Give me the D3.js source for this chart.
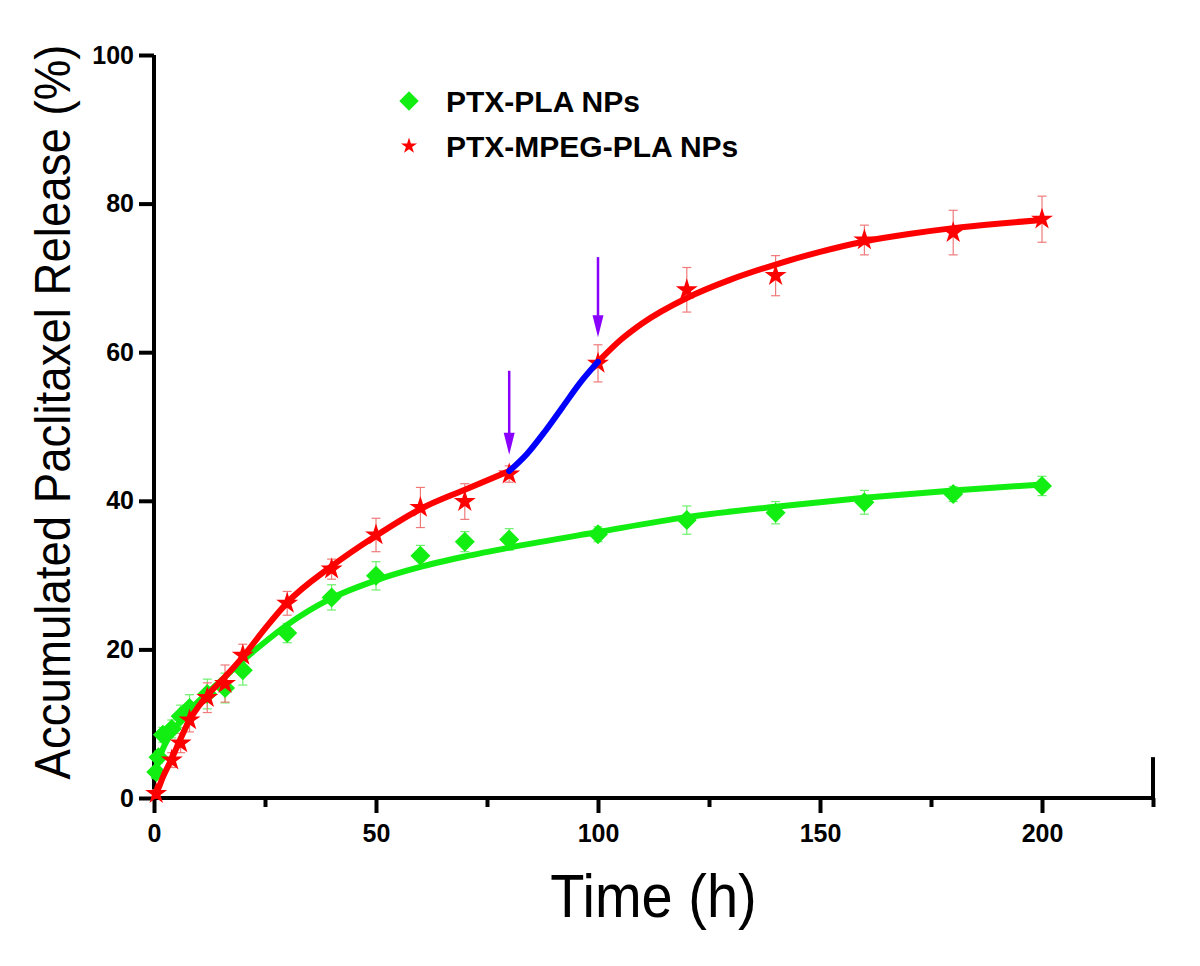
<!DOCTYPE html>
<html>
<head>
<meta charset="utf-8">
<script src="https://cdn.jsdelivr.net/npm/d3@7/dist/d3.min.js"></script>
<style>
  html, body { margin: 0; padding: 0; background: #fff; }
  svg { display: block; font-family: "Liberation Sans", Arial, sans-serif; }
</style>
</head>
<body>
<svg id="chart" width="1200" height="966"></svg>
<script>
// ---------- data ----------
const plaTime  = [0.5, 1, 2, 4, 6, 8, 12, 16, 20, 30, 40, 50, 60, 70, 80, 100, 120, 140, 160, 180, 200];
const plaValue = [3.5, 5.5, 8.5, 9.3, 11.0, 12.1, 14.0, 14.8, 17.2, 22.2, 27.0, 29.9, 32.6, 34.5, 34.8, 35.5, 37.4, 38.4, 39.8, 40.9, 42.0];
const plaError = [0.5, 0.8, 1.0, 1.2, 1.5, 1.8, 2.0, 2.0, 2.0, 1.3, 1.7, 1.9, 1.4, 1.35, 1.45, 1.0, 1.9, 1.5, 1.6, 1.0, 1.3];

const mpegTime  = [0.5, 4, 6, 8, 12, 16, 20, 30, 40, 50, 60, 70, 80, 100, 120, 140, 160, 180, 200];
const mpegValue = [0.6, 5.1, 7.4, 10.5, 13.5, 15.4, 19.2, 26.2, 30.8, 35.4, 39.1, 39.9, 43.6, 58.5, 68.4, 70.3, 75.1, 76.1, 77.9];
const mpegError = [0.5, 1.0, 1.3, 1.6, 2.0, 2.5, 1.5, 1.6, 1.35, 2.25, 2.7, 2.4, 1.1, 2.5, 3.0, 2.7, 2.0, 3.0, 3.1];

// fitted curves
const plaFitTime  = [0, 1, 2, 4, 6, 8, 10, 12, 16, 20, 25, 30, 40, 50, 60, 70, 80, 100, 120, 140, 160, 180, 200];
const plaFitValue = [2.5, 5.0, 6.6, 8.8, 10.4, 11.8, 13.0, 14.1, 16.3, 18.5, 21.0, 23.3, 26.9, 29.3, 31.1, 32.5, 33.7, 35.8, 37.8, 39.2, 40.4, 41.4, 42.2];

const mpegFit1Time  = [0, 1, 2, 4, 6, 8, 10, 12, 16, 20, 25, 30, 40, 50, 60, 70, 80];
const mpegFit1Value = [0, 1.3, 2.8, 5.3, 8.0, 10.5, 12.3, 13.8, 16.3, 19.0, 22.8, 26.3, 31.2, 35.3, 38.9, 41.5, 44.0];
const mpegFit2Time  = [80, 84, 88, 92, 96, 100];
const mpegFit2Value = [44.0, 46.3, 49.3, 52.6, 55.9, 58.7];
const mpegFit3Time  = [100, 105, 110, 120, 130, 140, 150, 160, 170, 180, 190, 200];
const mpegFit3Value = [58.7, 61.6, 63.9, 67.3, 69.8, 71.8, 73.5, 74.9, 75.9, 76.7, 77.3, 77.8];

const arrowTime = [80, 100];
const arrowTop  = [57.5, 72.8];
const arrowTip  = [46.2, 62.0];

const xTicks = [0, 50, 100, 150, 200];
const xMinorTicks = [25, 75, 125, 175, 225];
const yTicks = [0, 20, 40, 60, 80, 100];

const seriesNames = ["PTX-PLA NPs", "PTX-MPEG-PLA NPs"];
const xTitle = "Time (h)";
const yTitle = "Accumulated Paclitaxel Release (%)";

// ---------- drawing ----------
const GREEN = "#12ee12", GREEN_ERR = "#6cf06c";
const RED = "#ff0000", RED_ERR = "#f07a7a";
const BLUE = "#0000ff", ARROW = "#8a00ff";

const svg = d3.select("#chart");
const x = d3.scaleLinear().domain([0, 225]).range([154, 1153]);
const y = d3.scaleLinear().domain([0, 100]).range([798, 55]);

// axes
const xAxis = svg.append("g").attr("transform", `translate(0,${y(0)})`)
  .call(d3.axisBottom(x).tickValues(xTicks).tickSize(15).tickPadding(11).tickFormat(d3.format("d")));
const xMinor = svg.append("g").attr("transform", `translate(0,${y(0)})`)
  .call(d3.axisBottom(x).tickValues(xMinorTicks).tickSize(9).tickFormat(""));
const yAxis = svg.append("g").attr("transform", `translate(${x(0)},0)`)
  .call(d3.axisLeft(y).tickValues(yTicks).tickSize(15).tickPadding(5).tickFormat(d3.format("d")));

[xAxis, xMinor, yAxis].forEach(g => {
  g.select(".domain").attr("stroke", "#000").attr("stroke-width", 4);
  g.selectAll(".tick line").attr("stroke", "#000").attr("stroke-width", 4);
  g.selectAll(".tick text").attr("fill", "#000").attr("font-size", 25).attr("font-weight", "bold")
    .attr("font-family", "'Liberation Sans', Arial, sans-serif");
});
xAxis.select(".domain").attr("d", `M${x(0)},0H${x(225)}`);
xMinor.select(".domain").remove();
yAxis.select(".domain").attr("d", `M0,${y(0)}V${y(100)}`);
// short upward stub at the right end of the x axis
svg.append("line").attr("x1", x(225)).attr("x2", x(225)).attr("y1", y(0)).attr("y2", y(5.5))
  .attr("stroke", "#000").attr("stroke-width", 4);

// axis titles
svg.append("text").attr("transform", `translate(${(x(0) + x(225)) / 2},917) scale(1,1.1)`)
  .attr("text-anchor", "middle").attr("font-size", 56).attr("fill", "#000").text(xTitle);
svg.append("text").attr("transform", `translate(70,412) rotate(-90) scale(1,1.1)`)
  .attr("text-anchor", "middle").attr("font-size", 45.6).attr("fill", "#000").text(yTitle);

const toPts = (ts, vs) => ts.map((t, i) => [t, vs[i]]);
const line = d3.line().x(d => x(d[0])).y(d => y(d[1])).curve(d3.curveMonotoneX);

function errorBars(ts, vs, es, color) {
  const g = svg.append("g").attr("stroke", color).attr("stroke-width", 1.2).attr("fill", "none");
  ts.forEach((t, i) => {
    const cx = x(t), y1 = y(vs[i] + es[i]), y2 = y(vs[i] - es[i]);
    g.append("line").attr("x1", cx).attr("x2", cx).attr("y1", y1).attr("y2", y2);
    g.append("line").attr("x1", cx - 4.5).attr("x2", cx + 4.5).attr("y1", y1).attr("y2", y1);
    g.append("line").attr("x1", cx - 4.5).attr("x2", cx + 4.5).attr("y1", y2).attr("y2", y2);
  });
}

errorBars(plaTime, plaValue, plaError, GREEN_ERR);
errorBars(mpegTime, mpegValue, mpegError, RED_ERR);

const diamond = d3.symbol().type(d3.symbolSquare).size(200);
const star = d3.symbol().type(d3.symbolStar).size(150);

// green fit + markers
svg.append("path").attr("d", line(toPts(plaFitTime, plaFitValue)))
  .attr("fill", "none").attr("stroke", GREEN).attr("stroke-width", 6);
svg.append("g").selectAll("path").data(toPts(plaTime, plaValue)).join("path")
  .attr("d", diamond).attr("fill", GREEN)
  .attr("transform", d => `translate(${x(d[0])},${y(d[1])}) rotate(45)`);

// red fit + markers
svg.append("path").attr("d", line(toPts(mpegFit1Time, mpegFit1Value)))
  .attr("fill", "none").attr("stroke", RED).attr("stroke-width", 6);
svg.append("path").attr("d", line(toPts(mpegFit3Time, mpegFit3Value)))
  .attr("fill", "none").attr("stroke", RED).attr("stroke-width", 6);
svg.append("g").selectAll("path").data(toPts(mpegTime, mpegValue)).join("path")
  .attr("d", star).attr("fill", RED)
  .attr("transform", d => `translate(${x(d[0])},${y(d[1])})`);

// blue segment
svg.append("path").attr("d", line(toPts(mpegFit2Time, mpegFit2Value)))
  .attr("fill", "none").attr("stroke", BLUE).attr("stroke-width", 6).attr("stroke-linecap", "round");

// arrows
arrowTime.forEach((t, i) => {
  const cx = x(t), top = y(arrowTop[i]), tip = y(arrowTip[i]);
  svg.append("line").attr("x1", cx).attr("x2", cx).attr("y1", top).attr("y2", tip - 18)
    .attr("stroke", ARROW).attr("stroke-width", 2.5);
  svg.append("path").attr("d", `M${cx - 5.5},${tip - 22}L${cx + 5.5},${tip - 22}L${cx},${tip}Z`)
    .attr("fill", ARROW);
});

// legend
const legend = svg.append("g");
legend.append("path").attr("d", d3.symbol().type(d3.symbolSquare).size(190)())
  .attr("fill", GREEN).attr("transform", "translate(409,101) rotate(45)");
legend.append("path").attr("d", d3.symbol().type(d3.symbolStar).size(80)())
  .attr("fill", RED).attr("transform", "translate(409,146)");
legend.append("text").attr("x", 446).attr("y", 112).attr("font-size", 30).attr("font-weight", "bold")
  .attr("fill", "#000").text(seriesNames[0]);
legend.append("text").attr("x", 446).attr("y", 157).attr("font-size", 30).attr("font-weight", "bold")
  .attr("fill", "#000").text(seriesNames[1]);
</script>
</body>
</html>
